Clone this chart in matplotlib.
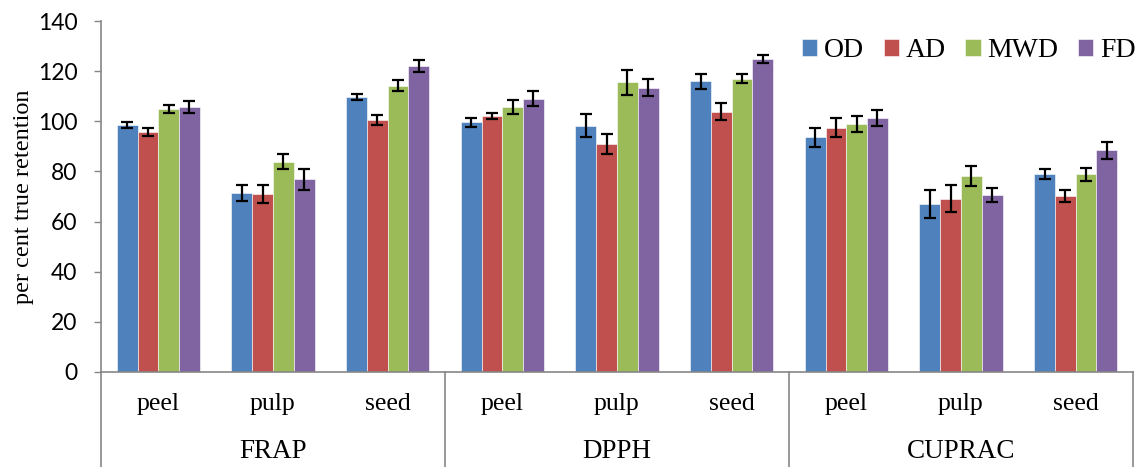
import numpy as np
import matplotlib
matplotlib.use("Agg")
from matplotlib import pyplot as plt
from matplotlib import transforms

methods = ["FRAP", "DPPH", "CUPRAC"]
parts = ["peel", "pulp", "seed"]
series = ["OD", "AD", "MWD", "FD"]
colors = ["#4F81BD", "#C0504D", "#9BBB59", "#8064A2"]
yticks = [0, 20, 40, 60, 80, 100, 120, 140]

# values per group: FRAP peel/pulp/seed, DPPH peel/pulp/seed, CUPRAC peel/pulp/seed
od = [98.5, 71.4, 109.7, 99.6, 98.3, 115.9, 93.6, 67.0, 79.1]
ad = [95.6, 71.1, 100.5, 102.2, 90.9, 103.8, 97.5, 69.2, 70.2]
mwd = [104.9, 83.9, 114.2, 105.7, 115.5, 117.0, 98.8, 78.2, 78.8]
fd = [105.7, 76.9, 122.0, 108.9, 113.4, 125.0, 101.4, 70.6, 88.5]

od_err = [1.3, 3.3, 1.3, 1.9, 4.5, 2.9, 3.7, 5.7, 2.0]
ad_err = [1.6, 3.5, 2.0, 1.3, 3.9, 3.4, 3.8, 5.5, 2.5]
mwd_err = [1.4, 3.0, 2.2, 2.8, 4.9, 1.9, 3.2, 3.9, 2.7]
fd_err = [2.5, 4.2, 2.5, 3.0, 3.3, 1.6, 3.1, 2.9, 3.4]

plt.rcParams['font.family'] = ['Liberation Serif', 'DejaVu Serif']

fig = plt.figure(figsize=(11.41, 4.67), dpi=100)
ax = fig.add_axes([101/1141, 95/467, 1032/1141, 351/467])

vals = [od, ad, mwd, fd]
errs = [od_err, ad_err, mwd_err, fd_err]
n = len(od)
x = np.arange(n)
w = 0.181
for i in range(4):
    pos = x + (i - 1.5) * w
    ax.bar(pos, vals[i], w, color=colors[i], label=series[i],
           edgecolor='white', linewidth=0.4, zorder=2)
    ax.errorbar(pos, vals[i], yerr=errs[i], fmt='none', ecolor='black',
                elinewidth=1.6, capsize=4, capthick=1.6, zorder=3)

ax.set_xlim(-0.5, n - 0.5)
ax.set_ylim(0, 140)
ax.set_yticks(yticks)
ax.set_yticklabels([str(t) for t in yticks], fontsize=16.5, fontfamily='Lato')
ax.tick_params(axis='y', direction='out', length=5, color='#868686', width=1, pad=12)
ax.set_xticks(x)
ax.set_xticklabels(parts * 3, fontsize=18.5)
ax.tick_params(axis='x', length=0, pad=15)

for s in ['top', 'right']:
    ax.spines[s].set_visible(False)
for s in ['left', 'bottom']:
    ax.spines[s].set_color('#868686')
    ax.spines[s].set_linewidth(1.2)

ax.set_ylabel('per cent true retention', fontsize=17.5)
ax.yaxis.set_label_coords(-67/1032, 0.5)

# multi-level category axis
trans = transforms.blended_transform_factory(ax.transData, ax.transAxes)
for b in [-0.5, 2.5, 5.5, 8.5]:
    ax.plot([b, b], [0, -0.275], transform=trans, color='#868686',
            linewidth=1.2, clip_on=False)
for k, m in enumerate(methods):
    ax.text(3 * k + 1, -80/351, m, transform=trans, ha='center', va='center',
            fontsize=19.5)

ax.legend(loc='upper right', bbox_to_anchor=(1.027, 1.022), ncol=4, frameon=False,
          fontsize=20, handlelength=0.55, handleheight=0.55, handletextpad=0.25,
          columnspacing=0.7)

fig.savefig('out.png', dpi=100)
